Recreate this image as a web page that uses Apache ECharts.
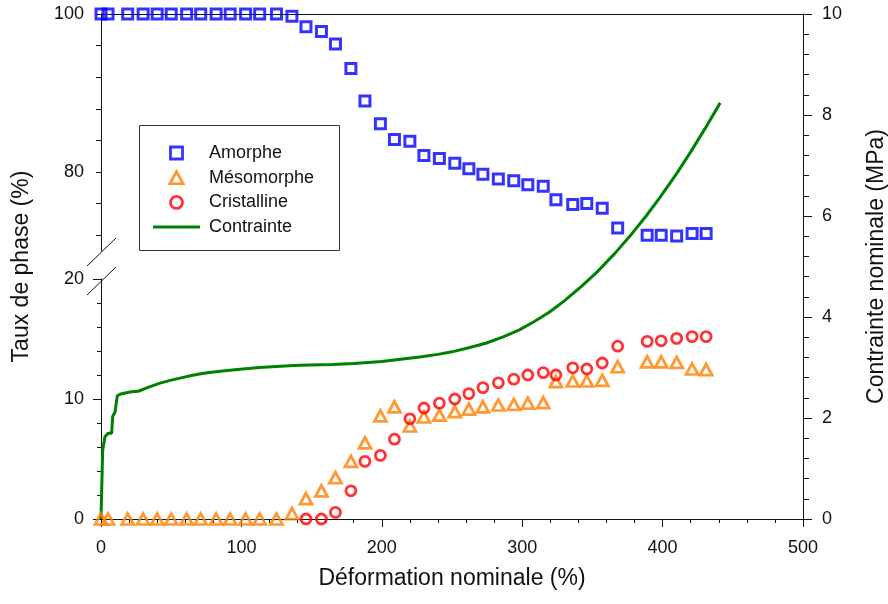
<!DOCTYPE html>
<html>
<head>
<meta charset="utf-8">
<script src="https://cdn.jsdelivr.net/npm/echarts@6/dist/echarts.min.js"></script>
<style>
  html, body { margin: 0; padding: 0; background: #fff; }
  #chart { width: 888px; height: 604px; }
</style>
</head>
<body>
<div id="chart"></div>
<script>
// Nominal strain (%) of each measurement
const strain = [0, 5, 19, 30, 40, 50, 61, 71, 82, 92, 103, 113, 125, 136, 146, 157, 167, 178, 188, 199,
  209, 220, 230, 241, 252, 262, 272, 283, 294, 304, 315, 324, 336, 346, 357, 368, 389, 399, 410, 421, 431];

// Phase fractions (%)
const amorphe = [100, 100, 100, 100, 100, 100, 100, 100, 100, 100, 100, 100, 100, 99.7, 98.4, 97.8, 96.2, 93.1, 89.0, 86.1,
  84.1, 83.9, 82.1, 81.7, 81.1, 80.4, 79.7, 79.1, 78.9, 78.4, 78.2, 76.5, 75.9, 76.0, 75.4, 72.9, 72.0, 72.0, 71.9, 72.2, 72.2];
const mesomorphe = [0, 0, 0, 0, 0, 0, 0, 0, 0, 0, 0, 0, 0, 0.45, 1.7, 2.35, 3.45, 4.8, 6.35, 8.6,
  9.35, 7.75, 8.5, 8.65, 8.95, 9.15, 9.35, 9.5, 9.55, 9.65, 9.7, 11.45, 11.5, 11.5, 11.55, 12.7, 13.1, 13.1, 13.05, 12.5, 12.45];
const cristalline = [null, null, null, null, null, null, null, null, null, null, null, null, null, null, 0, 0, 0.55, 2.35, 4.8, 5.3,
  6.65, 8.35, 9.25, 9.65, 10.0, 10.45, 10.95, 11.35, 11.65, 12.0, 12.2, 12.0, 12.6, 12.5, 13.0, 14.4, 14.8, 14.85, 15.05, 15.2, 15.2];

// Nominal stress curve (MPa) against strain (%)
const stressStrain = [0, 0.5, 1.2, 2.8, 5.2, 7.6, 8.3, 10, 11.6, 13.5, 18, 21.8, 26.5, 35, 42, 50, 61, 70, 77, 90,
  101, 113, 125, 137, 148, 165, 180, 200, 215, 227, 240, 250, 262, 274, 286, 298, 308, 319, 330, 342,
  354, 366, 378, 388, 398, 410, 420, 430, 441];
const stress = [0, 0.6, 1.36, 1.63, 1.7, 1.7, 2.03, 2.12, 2.44, 2.47, 2.5, 2.52, 2.53, 2.62, 2.69, 2.75, 2.82, 2.87, 2.9, 2.94,
  2.97, 3.0, 3.02, 3.04, 3.05, 3.06, 3.08, 3.12, 3.17, 3.21, 3.26, 3.31, 3.39, 3.48, 3.6, 3.745, 3.9, 4.09, 4.32, 4.6,
  4.91, 5.26, 5.645, 5.99, 6.365, 6.84, 7.27, 7.72, 8.24];

// Axis tick positions
const xTicks = [0, 100, 200, 300, 400, 500];
const lowerTicks = [0, 10, 20];
const upperMinorTicks = [72, 76, 80, 84, 88, 92, 96, 100];
const upperLabels = [80, 100];
const rightTicks = [0, 2, 4, 6, 8, 10];

const FONT = 'Liberation Sans, Arial, Helvetica, sans-serif';
const INK = '#111';

const pairs = (xs, ys) => xs.map((x, i) => [x, ys[i]]).filter(p => p[1] !== null);

const hollow = (c, w) => ({ color: 'rgba(0,0,0,0)', borderColor: c, borderWidth: w });

// Legend glyphs drawn as paths so they keep their proportions inside the legend slot
const ICON_SQUARE = 'path://M0,0 L10,0 L10,10 L0,10 Z';
const ICON_TRIANGLE = 'path://M5,0 L10,9 L0,9 Z';
const ICON_CIRCLE = 'path://M0,5 A5,5 0 1,1 10,5 A5,5 0 1,1 0,5 Z';
const ICON_LINE = 'path://M0,0 L47,0 L47,3 L0,3 Z';

const chart = echarts.init(document.getElementById('chart'), null, { renderer: 'canvas' });

const axisLine = { show: true, lineStyle: { color: INK, width: 1 } };
const labelStyle = { color: INK, fontFamily: FONT, fontSize: 18 };
const titleStyle = { color: INK, fontFamily: FONT, fontSize: 23 };
const gridBase = { left: 101, right: 85, containLabel: false, outerBoundsMode: 'none' };

chart.setOption({
  animation: false,
  backgroundColor: '#fff',
  grid: [
    { ...gridBase, top: 279, height: 240 },   // lower phase panel (0-20 %)
    { ...gridBase, top: 14, height: 237 },    // upper phase panel (70-100 %)
    { ...gridBase, top: 14, height: 505 }     // full frame for stress
  ],
  xAxis: [
    {
      gridIndex: 0, type: 'value', min: 0, max: 500, interval: 100,
      axisLine: axisLine,
      axisTick: { show: true, length: 8, lineStyle: { color: INK } },
      minorTick: { show: true, splitNumber: 5, length: 4, lineStyle: { color: INK } },
      axisLabel: { ...labelStyle, margin: 20, customValues: xTicks },
      splitLine: { show: false },
      name: 'Déformation nominale (%)', nameLocation: 'middle', nameGap: 48,
      nameTextStyle: titleStyle
    },
    {
      gridIndex: 1, type: 'value', min: 0, max: 500, position: 'top',
      axisLine: axisLine, axisTick: { show: false }, axisLabel: { show: false }, splitLine: { show: false }
    },
    {
      gridIndex: 2, type: 'value', min: 0, max: 500, show: false
    }
  ],
  yAxis: [
    {
      gridIndex: 0, type: 'value', min: 0, max: 20, interval: 10,
      axisLine: axisLine,
      axisTick: { show: true, length: 8, lineStyle: { color: INK } },
      minorTick: { show: true, splitNumber: 5, length: 4, lineStyle: { color: INK } },
      axisLabel: { ...labelStyle, margin: 17, customValues: lowerTicks },
      splitLine: { show: false }
    },
    {
      gridIndex: 1, type: 'value', min: 70, max: 100,
      axisLine: axisLine,
      axisTick: { show: true, length: 5, lineStyle: { color: INK }, customValues: upperMinorTicks },
      axisLabel: { ...labelStyle, margin: 17, customValues: upperLabels },
      splitLine: { show: false }
    },
    {
      gridIndex: 2, type: 'value', min: 0, max: 10, position: 'left',
      axisLine: { show: false }, axisTick: { show: false }, axisLabel: { show: false }, splitLine: { show: false },
      name: 'Taux de phase (%)', nameLocation: 'middle', nameGap: 68, nameRotate: 90,
      nameTextStyle: titleStyle
    },
    {
      gridIndex: 2, type: 'value', min: 0, max: 10, interval: 2, position: 'right',
      axisLine: axisLine,
      axisTick: { show: true, length: 9, lineStyle: { color: INK } },
      minorTick: { show: true, splitNumber: 5, length: 6, lineStyle: { color: INK } },
      axisLabel: { ...labelStyle, margin: 19, customValues: rightTicks },
      splitLine: { show: false },
      name: 'Contrainte nominale (MPa)', nameLocation: 'middle', nameGap: 62, nameRotate: 90,
      nameTextStyle: titleStyle
    }
  ],
  legend: {
    orient: 'vertical', left: 148, top: 139,
    itemWidth: 47, itemHeight: 12, itemGap: 6.7,
    symbolKeepAspect: true,
    itemStyle: { borderWidth: 2.8 },
    textStyle: { color: INK, fontFamily: FONT, fontSize: 18, lineHeight: 18, padding: [0, 0, 0, 4] },
    data: [
      { name: 'Amorphe', icon: ICON_SQUARE },
      { name: 'Mésomorphe', icon: ICON_TRIANGLE },
      { name: 'Cristalline', icon: ICON_CIRCLE },
      { name: 'Contrainte', icon: ICON_LINE, itemStyle: { borderWidth: 0 } }
    ]
  },
  graphic: [
    // legend frame
    { type: 'rect', shape: { x: 139.5, y: 125.5, width: 200, height: 125 },
      style: { fill: 'none', stroke: '#333', lineWidth: 1 }, z: 1 },
    // axis break marks on the left axis
    { type: 'line', shape: { x1: 87, y1: 266, x2: 116, y2: 238 }, style: { stroke: INK, lineWidth: 1 }, z: 10 },
    { type: 'line', shape: { x1: 87, y1: 295, x2: 116, y2: 267 }, style: { stroke: INK, lineWidth: 1 }, z: 10 }
  ],
  series: [
    {
      name: 'Amorphe', type: 'scatter', xAxisIndex: 1, yAxisIndex: 1, clip: false,
      symbol: 'rect', symbolSize: 10, itemStyle: hollow('#0000ff', 3),
      data: pairs(strain, amorphe), z: 3
    },
    {
      name: 'Mésomorphe', type: 'scatter', xAxisIndex: 0, yAxisIndex: 0, clip: false,
      symbol: 'triangle', symbolSize: [12, 11], itemStyle: hollow('#ff7f00', 2.8),
      data: pairs(strain, mesomorphe), z: 3
    },
    {
      name: 'Cristalline', type: 'scatter', xAxisIndex: 0, yAxisIndex: 0, clip: false,
      symbol: 'circle', symbolSize: 10, itemStyle: hollow('#ff0000', 2.8),
      data: pairs(strain, cristalline), z: 4
    },
    {
      name: 'Contrainte', type: 'line', xAxisIndex: 2, yAxisIndex: 3,
      symbol: 'none', showSymbol: false, smooth: false,
      lineStyle: { color: '#008000', width: 3 }, itemStyle: { color: '#008000' },
      data: pairs(stressStrain, stress), z: 2
    }
  ]
});
</script>
</body>
</html>
